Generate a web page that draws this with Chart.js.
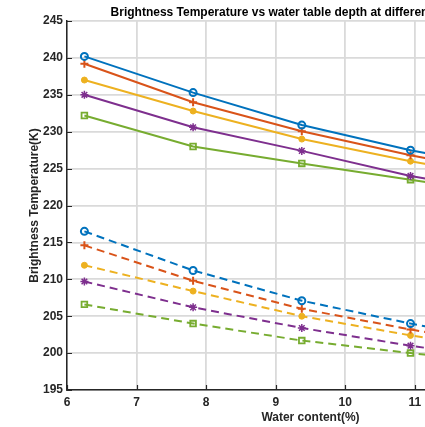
<!DOCTYPE html>
<html><head><meta charset="utf-8">
<script src="https://cdn.jsdelivr.net/npm/chart.js@4"></script>
<style>
html,body{margin:0;padding:0;background:#fff;overflow:hidden;width:425px;height:427px}
#wrap{width:620px;height:427px;position:relative}
</style></head>
<body><div id="wrap"><canvas id="c" width="620" height="427"></canvas></div>
<script>
// Water content (%) at which the brightness temperatures were computed
const waterContent = [6.25, 7.8125, 9.375, 10.9375, 12.5];
// Axis ticks
const xTicks = [6, 7, 8, 9, 10, 11, 12, 13];
const yTicks = [195, 200, 205, 210, 215, 220, 225, 230, 235, 240, 245];
// Solid curves (upper group)
const solid1 = [240.2, 235.3, 230.9, 227.5, 224.7];
const solid2 = [239.2, 234.0, 230.05, 226.8, 224.0];
const solid3 = [237.0, 232.8, 229.0, 226.0, 223.4];
const solid4 = [235.0, 230.6, 227.4, 224.0, 221.5];
const solid5 = [232.2, 228.0, 225.7, 223.5, 221.3];
// Dashed curves (lower group)
const dashed1 = [216.5, 211.2, 207.1, 204.0, 201.3];
const dashed2 = [214.6, 209.8, 206.0, 203.2, 200.8];
const dashed3 = [211.9, 208.4, 205.0, 202.4, 200.2];
const dashed4 = [209.7, 206.2, 203.4, 201.0, 198.9];
const dashed5 = [206.6, 204.0, 201.7, 200.0, 198.5];
const seriesNames = ['Case 1', 'Case 2', 'Case 3', 'Case 4', 'Case 5'];

const colors = ['#0072BD', '#D95319', '#EDB120', '#7E2F8E', '#77AC30'];
const markers = [
  {pointStyle: 'circle', pointRadius: 3.5, pointBorderWidth: 2, fill: false},
  {pointStyle: 'cross', pointRadius: 4, pointBorderWidth: 2, fill: false},
  {pointStyle: 'circle', pointRadius: 3, pointBorderWidth: 1, fill: true},
  {pointStyle: 'star', pointRadius: 4, pointBorderWidth: 1.5, fill: false},
  {pointStyle: 'rect', pointRadius: 4, pointBorderWidth: 1.8, fill: false}
];

function pts(vals) { return vals.map((v, i) => ({x: waterContent[i], y: v})); }
function makeDs(vals, i, dashed) {
  const m = markers[i];
  return {
    label: seriesNames[i] + (dashed ? ' (dashed)' : ' (solid)'),
    data: pts(vals),
    borderColor: colors[i],
    backgroundColor: colors[i],
    borderWidth: 2,
    borderDash: dashed ? [8, 5] : [],
    tension: 0,
    pointStyle: m.pointStyle,
    pointRadius: m.pointRadius,
    pointBorderWidth: m.pointBorderWidth,
    pointBorderColor: colors[i],
    pointBackgroundColor: m.fill ? colors[i] : 'rgba(0,0,0,0)'
  };
}
const solids = [solid1, solid2, solid3, solid4, solid5];
const dashes = [dashed1, dashed2, dashed3, dashed4, dashed5];
const datasets = [];
solids.forEach((s, i) => datasets.push(makeDs(s, i, false)));
dashes.forEach((s, i) => datasets.push(makeDs(s, i, true)));

const inwardTicks = {
  id: 'inwardTicks',
  afterDraw(chart) {
    const ctx = chart.ctx, xs = chart.scales.x, ys = chart.scales.y, a = chart.chartArea;
    ctx.save();
    ctx.strokeStyle = '#262626';
    ctx.lineWidth = 1.2;
    ctx.beginPath();
    xs.ticks.forEach(t => { const p = Math.round(xs.getPixelForValue(t.value)) + 0.5; ctx.moveTo(p, a.bottom); ctx.lineTo(p, a.bottom - 5); });
    ys.ticks.forEach(t => { const p = Math.round(ys.getPixelForValue(t.value)) + 0.5; ctx.moveTo(a.left, p); ctx.lineTo(a.left + 5, p); });
    ctx.stroke();
    ctx.restore();
  }
};

const FONT = 'Liberation Sans, Arial, Helvetica, sans-serif';
new Chart(document.getElementById('c'), {
  type: 'line',
  data: {datasets},
  plugins: [inwardTicks],
  options: {
    responsive: false,
    animation: false,
    layout: {padding: {left: 0, right: 66, top: 0, bottom: 0}},
    plugins: {
      legend: {display: false},
      tooltip: {enabled: false},
      title: {
        display: true,
        fullSize: false,
        text: 'Brightness Temperature vs water table depth at different soil moisture',
        color: '#000',
        font: {family: FONT, size: 12, weight: 'bold'},
        padding: {top: 5.8, bottom: 0.8}
      }
    },
    scales: {
      x: {
        type: 'linear',
        min: 6, max: 13,
        afterFit: s => { s.height = 37; },
        afterBuildTicks: s => { s.ticks = xTicks.map(v => ({value: v})); },
        ticks: {color: '#262626', font: {family: FONT, size: 12, weight: 'bold'}, padding: 5, maxRotation: 0},
        grid: {color: '#dadada', lineWidth: 1.8, drawTicks: false},
        border: {color: '#262626', width: 1.5},
        title: {display: true, text: 'Water content(%)', color: '#262626',
                font: {family: FONT, size: 12, weight: 'bold'}, padding: {top: 0, bottom: 1.8}}
      },
      y: {
        min: 195, max: 245,
        afterFit: s => { s.width = 67; },
        afterBuildTicks: s => { s.ticks = yTicks.map(v => ({value: v})); },
        ticks: {color: '#262626', font: {family: FONT, size: 12, weight: 'bold'}, padding: 4},
        grid: {color: '#dadada', lineWidth: 1.8, drawTicks: false},
        border: {color: '#262626', width: 1.5},
        title: {display: true, text: 'Brightness Temperature(K)', color: '#262626',
                font: {family: FONT, size: 12, weight: 'bold'}, padding: {top: 27, bottom: 0}}
      }
    }
  }
});
</script>
</body></html>
